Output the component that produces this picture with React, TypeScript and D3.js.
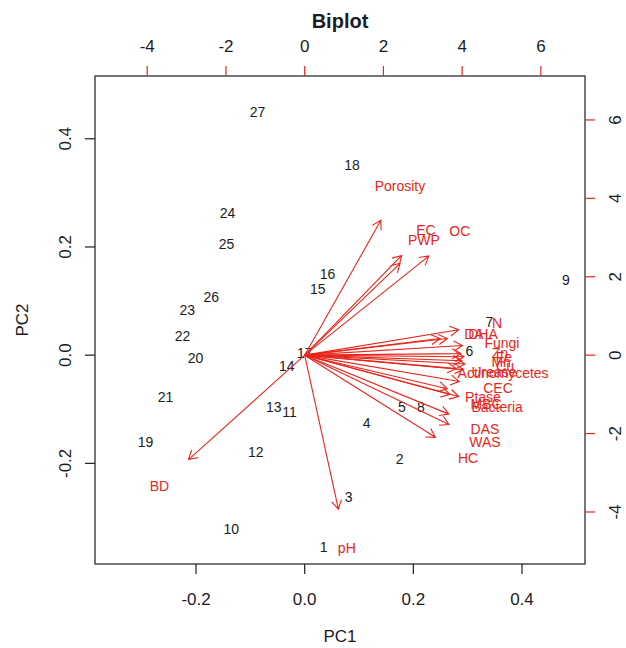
import React from 'react';
import * as d3 from 'd3';

const obsIds = ['1', '2', '3', '4', '5', '6', '7', '8', '9', '10', '11', '12', '13', '14',
  '15', '16', '17', '18', '19', '20', '21', '22', '23', '24', '25', '26', '27'];
const obsPC1 = [0.035, 0.175, 0.081, 0.114, 0.179, 0.303, 0.340, 0.214, 0.481, -0.135, -0.028,
  -0.090, -0.057, -0.033, 0.024, 0.042, 0.0, 0.087, -0.293, -0.201, -0.256, -0.225, -0.216,
  -0.142, -0.144, -0.172, -0.087];
const obsPC2 = [-0.354, -0.193, -0.262, -0.125, -0.096, 0.007, 0.061, -0.096, 0.139, -0.321,
  -0.105, -0.180, -0.096, -0.020, 0.123, 0.149, 0.004, 0.352, -0.161, -0.006, -0.077, 0.035,
  0.083, 0.262, 0.206, 0.108, 0.450];

// variable loadings (label positions; arrows drawn to 0.8 of them, as R's biplot does)
const varNames = ['Porosity', 'EC', 'PWP', 'OC', 'N', 'DA', 'DHA', 'Fungi', 'Zn', 'Fe', 'Mn', 'Cu',
  'Urease', 'Actinomycetes', 'CEC', 'Ptase', 'MBC', 'Bacteria', 'DAS', 'WAS', 'HC', 'BD', 'pH'];
const varPC1 = [2.42, 3.08, 3.03, 3.94, 4.89, 4.30, 4.53, 5.01, 4.96, 5.06, 4.99, 5.09,
  4.81, 5.04, 4.91, 4.53, 4.61, 4.89, 4.58, 4.58, 4.15, -3.69, 1.07];
const varPC2 = [4.30, 3.18, 2.93, 3.16, 0.81, 0.53, 0.53, 0.31, 0.05, -0.05, -0.18, -0.28,
  -0.43, -0.46, -0.84, -1.07, -1.25, -1.32, -1.88, -2.21, -2.62, -3.33, -4.91];

const bottomTicks = [-0.2, 0.0, 0.2, 0.4];
const leftTicks = [-0.2, 0.0, 0.2, 0.4];
const topTicks = [-4, -2, 0, 2, 4, 6];
const rightTicks = [-4, -2, 0, 2, 4, 6];

const W = 626;
const H = 648;
const LEFT = 95;
const RIGHT = 585;
const TOP = 76;
const BOTTOM = 564;
const LIM: [number, number] = [-0.386, 0.516];
const RATIO = 13.8;
const RED = '#e8261c';
const INK = '#1c1c24';
const FONT = '"Liberation Sans", Arial, sans-serif';
const TICK = 10;

export default function App() {
  const x = d3.scaleLinear().domain(LIM).range([LEFT, RIGHT]);
  const y = d3.scaleLinear().domain(LIM).range([BOTTOM, TOP]);
  const x2 = d3.scaleLinear().domain([LIM[0] * RATIO, LIM[1] * RATIO]).range([LEFT, RIGHT]);
  const y2 = d3.scaleLinear().domain([LIM[0] * RATIO, LIM[1] * RATIO]).range([BOTTOM, TOP]);
  const fmt = (v: number) => v.toFixed(1);

  const arrowHead = (x0: number, y0: number, x1: number, y1: number) => {
    const ang = Math.atan2(y1 - y0, x1 - x0);
    const len = 10;
    const a = Math.PI / 6;
    const p1 = [x1 - len * Math.cos(ang - a), y1 - len * Math.sin(ang - a)];
    const p2 = [x1 - len * Math.cos(ang + a), y1 - len * Math.sin(ang + a)];
    return `M${x0},${y0}L${x1},${y1}M${p1[0]},${p1[1]}L${x1},${y1}L${p2[0]},${p2[1]}`;
  };

  return (
    <div style={{ position: 'absolute', left: 0, top: 0 }}>
      <svg width={W} height={H} style={{ display: 'block', background: '#fff' }} fontFamily={FONT}>
        <text x={(LEFT + RIGHT) / 2} y={28} textAnchor="middle" fontSize={20} fontWeight="bold" fill={INK}>Biplot</text>

        {/* observation labels */}
        {obsIds.map((id, i) => (
          <text key={id} x={x(obsPC1[i])} y={y(obsPC2[i])} dy="0.35em" textAnchor="middle"
            fontSize={14} fill={INK}>{id}</text>
        ))}

        {/* variable arrows */}
        {varNames.map((n, i) => (
          <path key={'a' + n}
            d={arrowHead(x2(0), y2(0), x2(varPC1[i] * 0.8), y2(varPC2[i] * 0.8))}
            fill="none" stroke={RED} strokeWidth={1.1} />
        ))}
        {varNames.map((n, i) => (
          <text key={'t' + n} x={x2(varPC1[i])} y={y2(varPC2[i])} dy="0.35em" textAnchor="middle"
            fontSize={14} fill={RED}>{n}</text>
        ))}

        <rect x={LEFT} y={TOP} width={RIGHT - LEFT} height={BOTTOM - TOP} fill="none" stroke={INK} strokeWidth={1.2} />

        {/* bottom axis */}
        {bottomTicks.map(t => (
          <g key={'b' + t}>
            <line x1={x(t)} x2={x(t)} y1={BOTTOM} y2={BOTTOM + TICK} stroke={INK} strokeWidth={1.2} />
            <text x={x(t)} y={605} textAnchor="middle" fontSize={17} fill={INK}>{fmt(t)}</text>
          </g>
        ))}
        <text x={(LEFT + RIGHT) / 2} y={642} textAnchor="middle" fontSize={17} fill={INK}>PC1</text>

        {/* left axis */}
        {leftTicks.map(t => (
          <g key={'l' + t}>
            <line x1={LEFT - TICK} x2={LEFT} y1={y(t)} y2={y(t)} stroke={INK} strokeWidth={1.2} />
            <text transform={`translate(71,${y(t)}) rotate(-90)`} textAnchor="middle" fontSize={17} fill={INK}>{fmt(t)}</text>
          </g>
        ))}
        <text transform={`translate(28,${(TOP + BOTTOM) / 2}) rotate(-90)`} textAnchor="middle" fontSize={17} fill={INK}>PC2</text>

        {/* top axis (loadings) */}
        {topTicks.map(t => (
          <g key={'t' + t}>
            <line x1={x2(t)} x2={x2(t)} y1={TOP - TICK} y2={TOP} stroke={RED} strokeWidth={1.2} />
            <text x={x2(t)} y={52} textAnchor="middle" fontSize={17} fill={INK}>{t}</text>
          </g>
        ))}

        {/* right axis (loadings) */}
        {rightTicks.map(t => (
          <g key={'r' + t}>
            <line x1={RIGHT} x2={RIGHT + TICK} y1={y2(t)} y2={y2(t)} stroke={RED} strokeWidth={1.2} />
            <text transform={`translate(621,${y2(t)}) rotate(-90)`} textAnchor="middle" fontSize={17} fill={INK}>{t}</text>
          </g>
        ))}
      </svg>
    </div>
  );
}
